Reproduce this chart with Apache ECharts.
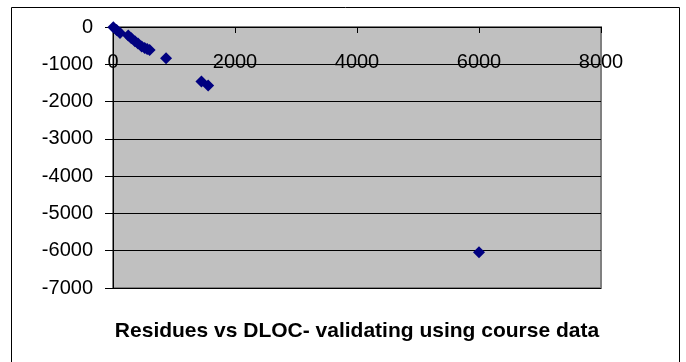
<!DOCTYPE html>
<html>
<head>
<meta charset="utf-8">
<script src="https://cdn.jsdelivr.net/npm/echarts@6/dist/echarts.min.js"></script>
<style>
  html, body { margin: 0; padding: 0; background: #ffffff; }
  #chart { width: 686px; height: 362px; }
</style>
</head>
<body>
<div id="chart"></div>
<script>
// DLOC values and their residues (validation against course data)
const dloc     = [5, 60, 115, 250, 300, 360, 410, 470, 520, 560, 600, 870, 1450, 1560, 6000];
const residues = [-10, -80, -160, -230, -300, -385, -440, -520, -560, -590, -615, -835, -1460, -1570, -6040];

const titleText = 'Residues vs DLOC- validating using course data';
const xTicks = { min: 0, max: 8000, step: 2000 };
const yTicks = { min: -7000, max: 0, step: 1000 };

const points = dloc.map((x, i) => [x, residues[i]]);
const plain = v => String(v);

const chart = echarts.init(document.getElementById('chart'), null, { renderer: 'canvas' });

chart.setOption({
  animation: false,
  backgroundColor: '#ffffff',
  textStyle: { fontFamily: 'Liberation Sans, Arial, sans-serif' },
  title: {
    text: titleText,
    left: 352,
    textAlign: 'center',
    top: 316,
    textStyle: { fontSize: 21, fontWeight: 'bold', color: '#000000', fontFamily: 'Liberation Sans, Arial, sans-serif' }
  },
  graphic: [{
    type: 'rect',
    shape: { x: 11.5, y: 7.5, width: 668, height: 370 },
    style: { fill: 'none', stroke: '#000000', lineWidth: 1 },
    silent: true,
    z: -1
  }],
  grid: {
    left: 113, right: 85, top: 27, bottom: 74,
    show: true,
    backgroundColor: '#c0c0c0',
    borderColor: '#808080',
    borderWidth: 2
  },
  xAxis: {
    type: 'value',
    position: 'top',
    min: xTicks.min, max: xTicks.max, interval: xTicks.step,
    axisLine: { show: true, onZero: false, lineStyle: { color: '#000000', width: 1 } },
    axisTick: { show: true, inside: true, length: 6, lineStyle: { color: '#000000' } },
    axisLabel: { inside: true, margin: 25, fontSize: 20, color: '#000000', formatter: plain, fontFamily: 'Liberation Sans, Arial, sans-serif' },
    splitLine: { show: false }
  },
  yAxis: {
    type: 'value',
    min: yTicks.min, max: yTicks.max, interval: yTicks.step,
    axisLine: { show: true, onZero: false, lineStyle: { color: '#000000', width: 1 } },
    axisTick: { show: true, inside: false, length: 8, lineStyle: { color: '#000000' } },
    axisLabel: { margin: 20, fontSize: 20, color: '#000000', formatter: plain, fontFamily: 'Liberation Sans, Arial, sans-serif' },
    splitLine: { show: true, lineStyle: { color: '#000000', width: 1 } }
  },
  series: [{
    type: 'scatter',
    data: points,
    symbol: 'diamond',
    symbolSize: [12, 12],
    itemStyle: { color: '#000080', opacity: 1 },
    z: 5
  }]
});
</script>
</body>
</html>
